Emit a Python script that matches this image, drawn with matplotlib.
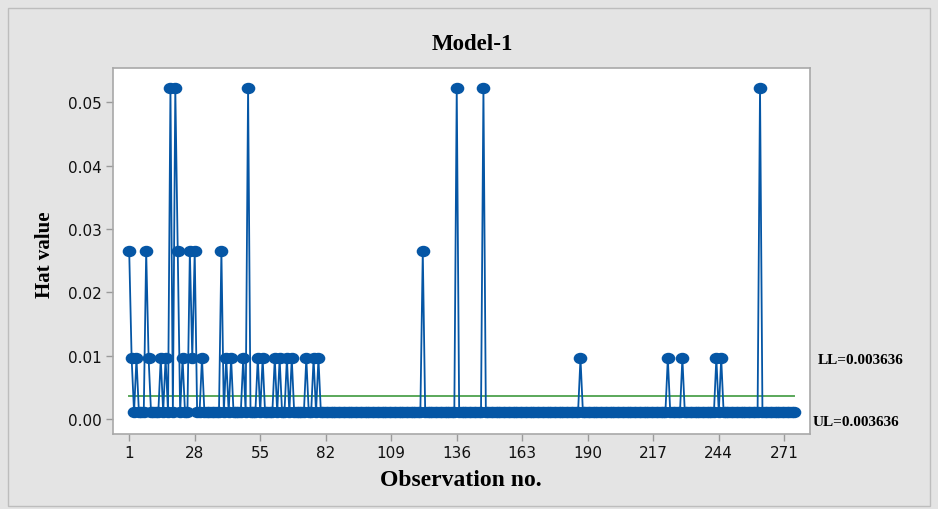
import numpy as np
import matplotlib.pyplot as plt
from matplotlib.path import Path
from matplotlib.transforms import Affine2D
from matplotlib.patches import Rectangle

# hat values per observation (leverage diagnostics, Model-1)
n_obs = 275
base_hat = 0.00105
cut_value = 0.003636

hat_high = 0.0523
hat_mid = 0.0265
hat_low = 0.0096

high_obs = [18, 20, 50, 136, 147, 261]
mid_obs = [1, 8, 21, 26, 28, 39, 122]
low_obs = [2, 4, 9, 14, 16, 23, 27, 31, 41, 43, 48, 54, 56, 61, 63, 66,
           68, 74, 77, 79, 187, 223, 229, 243, 245]

x_ticks = [1, 28, 55, 82, 109, 136, 163, 190, 217, 244, 271]
y_ticks = [0.00, 0.01, 0.02, 0.03, 0.04, 0.05]

obs = np.arange(1, n_obs + 1)
hat = np.full(n_obs, base_hat)
for lvl, idx in [(hat_low, low_obs), (hat_mid, mid_obs), (hat_high, high_obs)]:
    hat[np.array(idx) - 1] = lvl

W, H = 938, 510
fig = plt.figure(figsize=(W / 100, H / 100), dpi=100)
fig.patch.set_facecolor("#e4e4e4")
fig.patches.append(Rectangle((8 / W, 3 / H), 922 / W, 498 / H, transform=fig.transFigure,
                             fill=False, edgecolor="#bdbdbd", lw=1.0))

ax = fig.add_axes([112.7 / W, 1 - 435 / H, (810 - 112.7) / W, (435 - 69) / H])
ax.set_facecolor("white")

# slightly wide oval marker
oval = Path.unit_circle().transformed(Affine2D().scale(1.22, 1.0))
blue = "#0556a5"
ax.plot(obs, hat, color=blue, lw=1.3, marker=oval, markersize=8.8,
        markerfacecolor=blue, markeredgecolor=blue, zorder=3)
ax.plot([obs[0], obs[-1]], [cut_value, cut_value], color="#5aa85a", lw=1.4, zorder=2)

ax.set_xlim(-5.8, 281.6)
ax.set_ylim(-0.00237, 0.05542)
ax.set_xticks(x_ticks)
ax.set_yticks(y_ticks)
ax.set_yticklabels([f"{v:.2f}" for v in y_ticks])
ax.tick_params(axis="both", direction="out", length=5, width=1, color="#9a9a9a",
               labelsize=11, labelcolor="#111111", pad=3)
for s in ax.spines.values():
    s.set_color("#a8a8a8")
    s.set_linewidth(1.2)

serif = ["Liberation Serif", "DejaVu Serif"]
fig.text(472 / W, 1 - 45 / H, "Model-1", family=serif, weight="bold", fontsize=16.5,
         ha="center", va="center")
fig.text(461 / W, 1 - 481 / H, "Observation no.", family=serif, weight="bold", fontsize=17,
         ha="center", va="center")
fig.text(45 / W, 1 - 255 / H, "Hat value", family=serif, weight="bold", fontsize=15,
         rotation=90, ha="center", va="center")
fig.text(818 / W, 1 - 361 / H, "LL=0.003636", family=serif, weight="bold", fontsize=11,
         ha="left", va="center")
fig.text(813 / W, 1 - 423 / H, "UL=0.003636", family=serif, weight="bold", fontsize=11,
         ha="left", va="center")

fig.savefig("out.png", dpi=100, facecolor=fig.get_facecolor())
